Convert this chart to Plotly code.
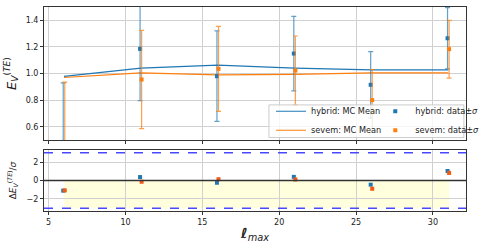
import numpy as np
import plotly.graph_objects as go

# ---- data ----
ell_max = [6, 11, 16, 21, 26, 31]
hybrid_mc_mean = [0.978, 1.040, 1.063, 1.040, 1.028, 1.028]
sevem_mc_mean = [0.970, 1.005, 0.990, 0.993, 1.005, 1.005]
hybrid_data = [0.450, 1.185, 0.980, 1.150, 0.915, 1.265]
hybrid_sigma = [0.480, 0.390, 0.340, 0.280, 0.250, 0.230]
sevem_data = [0.440, 0.955, 1.035, 1.022, 0.800, 1.183]
sevem_sigma = [0.495, 0.370, 0.320, 0.260, 0.230, 0.217]
x_shift = 0.05

BLUE = "#1f77b4"
ORANGE = "#ff7f0e"

ell = np.array(ell_max, dtype=float)
h_res = (np.array(hybrid_data) - np.array(hybrid_mc_mean)) / np.array(hybrid_sigma)
s_res = (np.array(sevem_data) - np.array(sevem_mc_mean)) / np.array(sevem_sigma)

fig = go.Figure()

# top panel
fig.add_trace(go.Scatter(x=ell, y=hybrid_mc_mean, mode="lines", name="hybrid: MC Mean",
                         line=dict(color=BLUE, width=1.2), legend="legend", xaxis="x", yaxis="y"))
fig.add_trace(go.Scatter(x=ell, y=sevem_mc_mean, mode="lines", name="sevem: MC Mean",
                         line=dict(color=ORANGE, width=1.2), legend="legend", xaxis="x", yaxis="y"))
fig.add_trace(go.Scatter(x=ell - x_shift, y=hybrid_data, mode="markers", name="hybrid: data\u00b1<i>\u03c3</i>",
                         marker=dict(color=BLUE, size=4, symbol="square"),
                         error_y=dict(type="data", array=hybrid_sigma, color="rgba(31,119,180,0.7)",
                                      thickness=1.2, width=2.5),
                         legend="legend2", xaxis="x", yaxis="y"))
fig.add_trace(go.Scatter(x=ell + x_shift, y=sevem_data, mode="markers", name="sevem: data\u00b1<i>\u03c3</i>",
                         marker=dict(color=ORANGE, size=4, symbol="square"),
                         error_y=dict(type="data", array=sevem_sigma, color="rgba(255,127,14,0.75)",
                                      thickness=1.2, width=2.5),
                         legend="legend2", xaxis="x", yaxis="y"))

# bottom panel
fig.add_trace(go.Scatter(x=ell - x_shift, y=h_res, mode="markers", showlegend=False,
                         marker=dict(color=BLUE, size=4, symbol="square"), xaxis="x2", yaxis="y2"))
fig.add_trace(go.Scatter(x=ell + x_shift, y=s_res, mode="markers", showlegend=False,
                         marker=dict(color="#f05a14", size=4, symbol="square"), xaxis="x2", yaxis="y2"))

shapes = [
    dict(type="rect", xref="x2", yref="y2", x0=ell[0], x1=ell[-1] + x_shift, y0=-3, y1=0,
         fillcolor="rgba(255,255,200,0.6)", line=dict(width=0), layer="below"),
    dict(type="line", xref="x2 domain", yref="y2", x0=0, x1=1, y0=0, y1=0,
         line=dict(color="#333333", width=1.3)),
    dict(type="line", xref="x2 domain", yref="y2", x0=0, x1=1, y0=3, y1=3,
         line=dict(color="#4848ff", width=1.4, dash="dash")),
    dict(type="line", xref="x2 domain", yref="y2", x0=0, x1=1, y0=-3, y1=-3,
         line=dict(color="#4848ff", width=1.4, dash="dash")),
    # legend frame
    dict(type="rect", xref="paper", yref="paper", x0=0.533, x1=0.995, y0=0.36, y1=0.52,
         fillcolor="rgba(255,255,255,0.8)", line=dict(color="#cccccc", width=1), layer="above"),
]

axis_common = dict(showline=True, linecolor="#333333", linewidth=1, mirror=True,
                   ticks="outside", ticklen=3, tickcolor="#333333", automargin=False,
                   showgrid=True, gridcolor="#d0d0d0", gridwidth=1, zeroline=False,
                   tickfont=dict(family="DejaVu Sans", size=8, color="#222222"))

fig.update_layout(
    width=491, height=245,
    margin=dict(l=44, r=10, t=7, b=34),
    plot_bgcolor="white", paper_bgcolor="white",
    font=dict(family="DejaVu Sans", color="#222222"),
    shapes=shapes,
    xaxis=dict(domain=[0, 1], range=[4.7, 32.15], anchor="y", showticklabels=False,
               tickvals=[5, 10, 15, 20, 25, 30], **axis_common),
    yaxis=dict(domain=[0.348, 1], range=[0.5, 1.5], anchor="x",
               tickvals=[0.6, 0.8, 1.0, 1.2, 1.4], ticktext=["0.6", "0.8", "1.0", "1.2", "1.4"],
               title=dict(text="<i>E</i><sub><i>V</i></sub><sup>(<i>TE</i>)</sup>",
                          font=dict(size=13), standoff=6),
               **axis_common),
    xaxis2=dict(domain=[0, 1], range=[4.7, 32.15], anchor="y2", matches="x",
                tickvals=[5, 10, 15, 20, 25, 30],
                title=dict(text="<b><i>\u2113</i></b><sub><i>max</i></sub>", font=dict(size=14), standoff=2),
                **axis_common),
    yaxis2=dict(domain=[0, 0.299], range=[-3.3, 3.3], anchor="x2",
                tickvals=[-2, 0, 2], ticktext=["\u22122", "0", "2"],
                title=dict(text="\u0394<i>E</i><sub><i>V</i></sub><sup>(<i>TE</i>)</sup>/<i>\u03c3</i>",
                           font=dict(size=9), standoff=8),
                **axis_common),
    legend=dict(x=0.538, y=0.56, xanchor="left", yanchor="top", bgcolor="rgba(0,0,0,0)",
                font=dict(size=8.2), itemwidth=30, tracegroupgap=0),
    legend2=dict(x=0.785, y=0.56, xanchor="left", yanchor="top", bgcolor="rgba(0,0,0,0)",
                 font=dict(size=8.2), itemwidth=30, tracegroupgap=0),
)

fig.write_html("out.html", config={"displayModeBar": False},
               post_script="document.body.style.margin='0';document.body.style.padding='0';")
